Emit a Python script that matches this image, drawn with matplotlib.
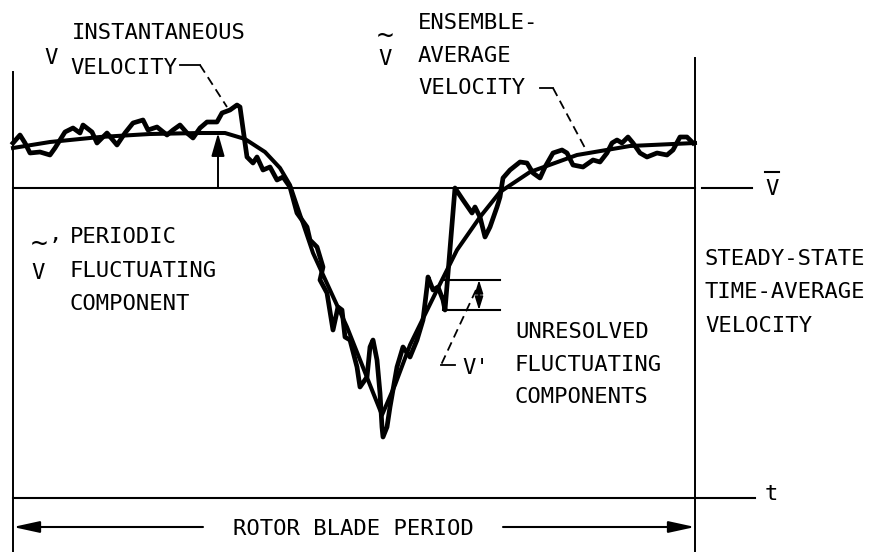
import numpy as np
import matplotlib.pyplot as plt

# time within one rotor blade period (arbitrary units, 0..682) and velocity (arbitrary units, t-axis = 0)
t_ens = [0, 37, 87, 137, 187, 212, 232, 252, 267, 277, 300, 334, 357, 369, 382, 397,
         424, 444, 467, 487, 517, 564, 617, 682]
v_ens = [350, 356, 361, 364, 365, 365, 359, 346, 330, 313, 245, 171, 113, 83, 113, 153,
         208, 248, 281, 306, 326, 343, 352, 355]

t_inst = [0, 7, 12, 17, 27, 37, 42, 52, 60, 67, 70, 79, 84, 94, 104, 112, 120, 130, 135,
          144, 154, 160, 167, 174, 180, 187, 194, 204, 209, 217, 224, 227, 232, 234, 240,
          244, 250, 257, 264, 270, 277, 284, 294, 297, 304, 310, 307, 314, 320, 325, 329,
          332, 337, 344, 347, 354, 357, 360, 364, 367, 369, 370, 374, 377, 384, 390, 397,
          404, 410, 414, 415, 420, 425, 430, 432, 442, 450, 459, 462, 467, 472, 477, 484,
          487, 490, 497, 507, 514, 520, 527, 532, 540, 549, 554, 560, 570, 580, 587, 594,
          599, 604, 609, 615, 620, 627, 634, 644, 654, 660, 667, 674, 680]
v_inst = [355, 363, 355, 345, 346, 343, 350, 366, 370, 365, 373, 366, 355, 365, 353, 365,
          375, 378, 368, 371, 363, 368, 373, 365, 360, 370, 376, 376, 385, 388, 393, 391,
          355, 341, 335, 341, 328, 331, 318, 321, 311, 285, 271, 258, 251, 231, 218, 205,
          168, 191, 188, 161, 158, 131, 111, 121, 151, 158, 138, 105, 71, 61, 71, 91, 131,
          151, 141, 158, 178, 211, 221, 208, 211, 198, 188, 310, 298, 285, 291, 281, 261,
          271, 291, 301, 320, 328, 336, 335, 325, 320, 331, 345, 348, 345, 333, 331, 338,
          336, 345, 355, 358, 355, 361, 355, 345, 341, 345, 343, 348, 361, 361, 355]

v_mean = 310
period = 682

fs = 16
mono = 'DejaVu Sans Mono'

fig = plt.figure(figsize=(8.7, 5.52), dpi=100)
ax = fig.add_axes([0, 0, 1, 1])
ax.set_xlim(-13, 857)
ax.set_ylim(-54, 498)
ax.axis('off')

# frame, mean line, time axis
ax.plot([0, 0], [426, -54], color='black', lw=1.4)
ax.plot([period, period], [440, -54], color='black', lw=1.4)
ax.plot([0, period], [v_mean, v_mean], color='black', lw=1.5)
ax.plot([689, 739], [v_mean, v_mean], color='black', lw=1.5)
ax.plot([0, 742], [0, 0], color='black', lw=1.5)

# velocity traces
ax.plot(t_inst, v_inst, color='black', lw=3.4, solid_joinstyle='round')
ax.plot(t_ens, v_ens, color='black', lw=2.9)

# periodic component arrow
t_arr = 205
ax.annotate('', xy=(t_arr, np.interp(t_arr, t_ens, v_ens)), xytext=(t_arr, v_mean),
            arrowprops=dict(arrowstyle='-|>,head_length=1.4,head_width=0.4', color='black',
                            lw=1.4, shrinkA=0, shrinkB=0))

# unresolved fluctuation marker
ax.plot([430, 487], [218, 218], color='black', lw=1.5)
ax.plot([430, 487], [188, 188], color='black', lw=1.5)
ax.annotate('', xy=(466, 218), xytext=(466, 188),
            arrowprops=dict(arrowstyle='<|-|>,head_length=0.8,head_width=0.25', color='black',
                            lw=1.2, shrinkA=0, shrinkB=0))

# leaders
ax.plot([167, 187], [433, 433], color='black', lw=1.3)
ax.plot([187, 214], [433, 391], color='black', lw=1.3, ls=(0, (5, 3)))
ax.plot([527, 540], [410, 410], color='black', lw=1.3)
ax.plot([540, 572], [410, 350], color='black', lw=1.3, ls=(0, (5, 3)))
ax.plot([463, 428], [208, 133], color='black', lw=1.3, ls=(0, (5, 3)))
ax.plot([428, 442], [133, 133], color='black', lw=1.3)

# rotor blade period
ax.annotate('', xy=(0, -29), xytext=(190, -29),
            arrowprops=dict(arrowstyle='-|>,head_length=1.6,head_width=0.35', color='black',
                            lw=1.5, shrinkA=0, shrinkB=0))
ax.annotate('', xy=(period, -29), xytext=(490, -29),
            arrowprops=dict(arrowstyle='-|>,head_length=1.6,head_width=0.35', color='black',
                            lw=1.5, shrinkA=0, shrinkB=0))
ax.text(220, -31, 'ROTOR BLADE PERIOD', fontsize=fs, family=mono, va='center', ha='left')

# labels
txt = dict(fontsize=fs, family=mono, va='center', ha='left')
ax.text(38, 440, 'V', fontsize=fs, family=mono, va='center', ha='center')
ax.text(59, 465, 'INSTANTANEOUS', **txt)
ax.text(57, 430, 'VELOCITY', **txt)

ax.text(372, 462, '~', fontsize=fs + 4, family=mono, va='center', ha='center')
ax.text(372, 439, 'V', fontsize=fs, family=mono, va='center', ha='center')
ax.text(405, 475, 'ENSEMBLE-', **txt)
ax.text(405, 442, 'AVERAGE', **txt)
ax.text(405, 410, 'VELOCITY', **txt)

ax.text(26, 254, '~', fontsize=fs + 4, family=mono, va='center', ha='center')
ax.text(25, 225, 'V', fontsize=fs, family=mono, va='center', ha='center')
ax.text(42, 264, ',', fontsize=fs, family=mono, va='center', ha='center')
ax.text(57, 261, 'PERIODIC', **txt)
ax.text(57, 227, 'FLUCTUATING', **txt)
ax.text(57, 194, 'COMPONENT', **txt)

ax.text(692, 239, 'STEADY-STATE', **txt)
ax.text(692, 206, 'TIME-AVERAGE', **txt)
ax.text(692, 172, 'VELOCITY', **txt)

ax.text(502, 166, 'UNRESOLVED', **txt)
ax.text(502, 133, 'FLUCTUATING', **txt)
ax.text(502, 101, 'COMPONENTS', **txt)
ax.text(449, 130, "V'", **txt)

ax.text(759, 309, 'V', fontsize=fs, family=mono, va='center', ha='center')
ax.plot([752, 766], [326, 326], color='black', lw=1.5)
ax.text(758, 4, 't', fontsize=fs, family=mono, va='center', ha='center')

fig.savefig('out.png', dpi=100)
